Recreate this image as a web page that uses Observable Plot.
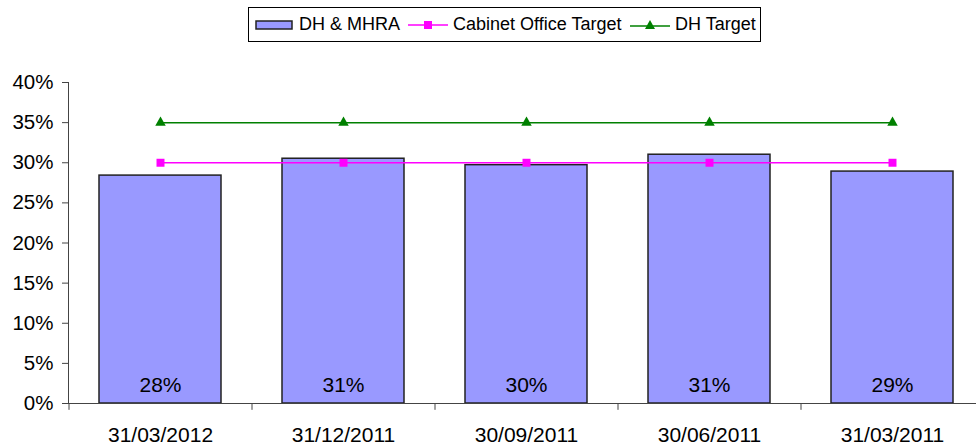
<!DOCTYPE html>
<html>
<head>
<meta charset="utf-8">
<script src="https://cdn.jsdelivr.net/npm/d3@7"></script>
<script src="https://cdn.jsdelivr.net/npm/@observablehq/plot@0.6"></script>
<style>
  html, body { margin: 0; padding: 0; background: #fff; }
  body { width: 976px; height: 447px; position: relative; overflow: hidden; font-family: "Liberation Sans", Arial, sans-serif; color: #000; }
  #legend { position: absolute; left: 248px; top: 7px; width: 511px; height: 33px; border: 1px solid #000; background: #fff; font-size: 18px; z-index: 2; }
  #legend .item { position: absolute; top: 0; height: 33px; display: flex; align-items: center; white-space: nowrap; }
  #legend svg { display: block; }
  #chart { position: absolute; left: 0; top: 0; }
</style>
</head>
<body>
<div id="legend">
  <div class="item" style="left:6px"><svg width="38" height="12"><rect x="1" y="2" width="36" height="8" fill="#9999FF" stroke="#222" stroke-width="1.5"/></svg><span style="margin-left:6px">DH &amp; MHRA</span></div>
  <div class="item" style="left:159px"><svg width="40" height="12"><line x1="0" y1="6" x2="40" y2="6" stroke="#FF00FF" stroke-width="1.5"/><rect x="16" y="2" width="8" height="8" fill="#FF00FF"/></svg><span style="margin-left:5px">Cabinet Office Target</span></div>
  <div class="item" style="left:381px"><svg width="40" height="12"><line x1="0" y1="7" x2="40" y2="7" stroke="#008000" stroke-width="1.5"/><path d="M20,1 L25,10 L15,10 Z" fill="#008000"/></svg><span style="margin-left:5px">DH Target</span></div>
</div>
<div id="chart"></div>
<script>
const dates = ["31/03/2012", "31/12/2011", "30/09/2011", "30/06/2011", "31/03/2011"];
const dhMhra = [28.4, 30.5, 29.7, 31.0, 28.9];
const cabinetTarget = [30, 30, 30, 30, 30];
const dhTarget = [35, 35, 35, 35, 35];
const yTicks = [0, 5, 10, 15, 20, 25, 30, 35, 40];

const bars = dates.map((d, i) => ({date: d, value: dhMhra[i]}));
const cab = dates.map((d, i) => ({date: d, value: cabinetTarget[i]}));
const dht = dates.map((d, i) => ({date: d, value: dhTarget[i]}));

const step = 183;

const chart = Plot.plot({
  width: 976,
  height: 447,
  marginTop: 82,
  marginBottom: 44,
  marginLeft: 68,
  marginRight: 0,
  style: {fontFamily: "'Liberation Sans', Arial, sans-serif", fontSize: "20px", color: "#000", background: "transparent"},
  x: {domain: dates, range: [68, 68 + step * 5], paddingInner: 1/3, paddingOuter: 1/6, label: null},
  y: {domain: [0, 40], label: null},
  marks: [
    Plot.barY(bars, {x: "date", y: "value", fill: "#9999FF", stroke: "#222", strokeWidth: 1.5}),
    Plot.text(bars, {x: "date", text: d => Math.round(d.value) + "%", frameAnchor: "bottom", lineAnchor: "middle", dy: -18, fontSize: 21, fill: "#000"}),
    Plot.line(cab, {x: "date", y: "value", stroke: "#FF00FF", strokeWidth: 1.5}),
    Plot.dot(cab, {x: "date", y: "value", symbol: "square", r: 4.5, fill: "#FF00FF", stroke: null}),
    Plot.line(dht, {x: "date", y: "value", stroke: "#008000", strokeWidth: 1.5}),
    Plot.dot(dht, {x: "date", y: "value", symbol: "triangle", r: 3.9, fill: "#008000", stroke: null}),
    Plot.frame({anchor: "left", stroke: "#444", strokeWidth: 1}),
    Plot.ruleY([0], {stroke: "#444", strokeWidth: 1}),
    Plot.ruleX(dates, {x: d => d, y1: 0, y2: -0.85, dx: -step / 2, stroke: "#444", strokeWidth: 1}),
    Plot.axisY({ticks: yTicks, tickFormat: d => d + "%", tickSize: 6, tickPadding: 9, fontSize: 20.5, stroke: "#444", fill: "#000", label: null}),
    Plot.axisX({tickSize: 0, tickPadding: 24, fontSize: 21, fill: "#000", label: null})
  ]
});
document.getElementById("chart").appendChild(chart);
</script>
</body>
</html>
